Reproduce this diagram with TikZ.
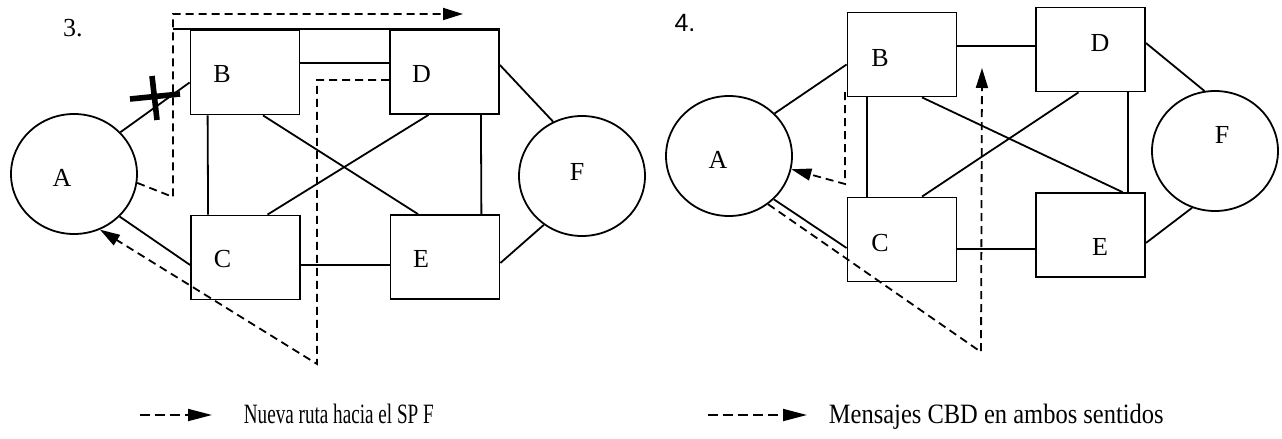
\documentclass[tikz,border=0pt]{standalone}
\usepackage{fontspec}
\setmainfont{Liberation Serif}
\setsansfont{Liberation Sans}
\usepackage{graphicx}
\usetikzlibrary{shapes.geometric,arrows.meta}

% shift a label inside its node, node size stays the same
\newcommand{\nudge}[3]{\raisebox{#2}[\height][\depth]{\kern#1\relax#3\kern-#1\relax}}

\begin{document}
\begin{tikzpicture}[x=0.5pt, y=-0.5pt, line width=0.9pt, font=\fontsize{13}{15}\selectfont,
    sp/.style={ellipse, draw, minimum width=63pt, minimum height=60pt, inner sep=0pt},
    stp/.style={rectangle, draw, minimum width=54.5pt, minimum height=42pt, inner sep=0pt},
    route/.style={dash pattern=on 4pt off 2.5pt, -{Triangle[length=10pt, width=6pt]}},
    key/.style={dash pattern=on 5pt off 2.5pt, -{Triangle[length=12pt, width=6pt]}},
    cut/.style={line width=2.8pt}]

    \useasboundingbox (0,0) rectangle (1282,439);

    % --- 3. ---
    \node (n3) at (73,28) {3.};
    \node[sp] (a3) at (74,174) {\nudge{-6pt}{-2pt}{A}};
    \node[stp] (b3) at (245,72.5) {\nudge{-11.5pt}{-1pt}{B}};
    \node[stp] (d3) at (444.5,72) {\nudge{-11.5pt}{-1pt}{D}};
    \node[stp] (c3) at (245.5,257.5) {\nudge{-11.5pt}{-1pt}{C}};
    \node[stp] (e3) at (445,257) {\nudge{-12pt}{-1pt}{E}};
    \node[sp] (f3) at (582,176) {\nudge{-2.5pt}{2pt}{F}};

    \draw (a3.42) -- ([yshift=-5pt]b3.west);
    \draw (a3.-43) -- ([yshift=-3.75pt]c3.west);
    \draw ([yshift=4.75pt]b3.east) -- ([yshift=4.75pt]b3.east -| d3.west);
    \draw ([xshift=9pt]b3.south west) -- ([xshift=9pt]c3.north west);
    \draw ([xshift=9pt]b3.south) -- ([xshift=-13.5pt]e3.north);
    \draw ([xshift=-8pt]d3.south) -- ([xshift=11pt]c3.north);
    \draw ([xshift=-9.5pt]d3.south east) -- ([xshift=-9.5pt]e3.north east);
    \draw ([yshift=-3.75pt]c3.east) -- ([yshift=-3.75pt]c3.east -| e3.west);
    \draw ([yshift=3.5pt]d3.east) -- (f3.118);
    \draw ([yshift=-3pt]e3.east) -- (f3.-128);

    % link A-B down, new route over the top
    \coordinate (k3) at (173,197);
    \coordinate (up3) at (173,14);
    \coordinate (tip3) at (463,14);
    \coordinate (low3) at (317,364);
    \draw (up3 |- d3.north) -- (d3.north east);
    \draw[route] (a3.-8) -- (k3) -- (up3) -- (tip3);
    \draw[route] ([yshift=-4pt]d3.west) -| (low3) -- (a3.-65);
    \draw[cut] (130,99) -- (180,94) (152,76) -- (157,120);

    % --- 4. ---
    \node[font=\sffamily\fontsize{12.5}{15}\selectfont] (n4) at (685,23) {4.};
    \node[sp] (a4) at (729,156) {\nudge{-5.5pt}{-2pt}{A}};
    \node[stp] (b4) at (902,54.5) {\nudge{-11pt}{-1.75pt}{B}};
    \node[stp] (d4) at (1090.5,49.5) {\nudge{4.75pt}{3.25pt}{D}};
    \node[stp] (c4) at (902,239.5) {\nudge{-11pt}{-1.75pt}{C}};
    \node[stp] (e4) at (1090.5,235) {\nudge{4.75pt}{-6pt}{E}};
    \node[sp] (f4) at (1215,151) {\nudge{3.5pt}{8pt}{F}};

    \draw (a4.43) -- ([yshift=-5pt]b4.west);
    \draw (a4.-44) -- ([yshift=-4.25pt]c4.west);
    \draw ([yshift=4.25pt]b4.east) -- ([yshift=4.25pt]b4.east -| d4.west);
    \draw ([xshift=10pt]b4.south west) -- ([xshift=10pt]c4.north west);
    \draw ([xshift=10pt]b4.south) -- ([xshift=16pt]e4.north);
    \draw ([xshift=-6pt]d4.south) -- ([xshift=10pt]c4.north);
    \draw ([xshift=-9pt]d4.south east) -- ([xshift=-9pt]e4.north east);
    \draw ([yshift=-4.75pt]c4.east) -- ([yshift=-4.75pt]c4.east -| e4.west);
    \draw ([yshift=3.25pt]d4.east) -- (f4.100);
    \draw ([yshift=-4pt]e4.east) -- (f4.-112);

    % CBD messages
    \coordinate (s4) at (845,92);
    \coordinate (m4) at (845,184);
    \coordinate (low4) at (981,352);
    \coordinate (tip4) at (982,68);
    \draw[route] (s4) -- (m4) -- (a4.-12);
    \draw[route] (a4.-51) -- (low4) -- (tip4);

    % key
    \node[anchor=base west, inner sep=0pt, font=\fontsize{14}{16}\selectfont] (leg1) at (243,423) {\scalebox{0.684}[1]{Nueva ruta hacia el SP F}};
    \node[anchor=base west, inner sep=0pt, font=\fontsize{14}{16}\selectfont] (leg2) at (828,423) {\scalebox{0.875}[1]{Mensajes CBD en ambos sentidos}};
    \coordinate (l1) at (140,415);
    \coordinate (l2) at (708,415);
    \draw[key] (l1) -- ([xshift=-15.5pt, yshift=4pt]leg1.base west);
    \draw[key] (l2) -- ([xshift=-10.5pt, yshift=4pt]leg2.base west);

\end{tikzpicture}
\end{document}
